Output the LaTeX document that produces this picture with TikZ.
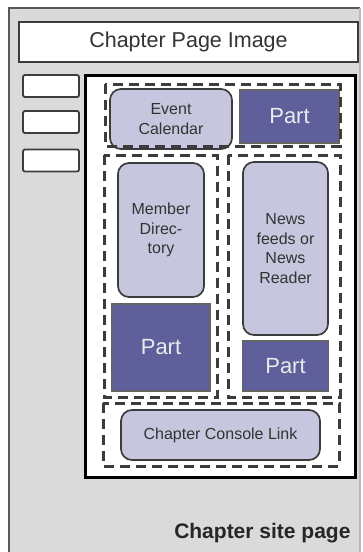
\documentclass[tikz,border=0pt]{standalone}
\usepackage{fontspec}
\setmainfont{Liberation Sans}
\usetikzlibrary{positioning}
\definecolor{pagegray}{HTML}{DADADA}
\definecolor{boxlav}{HTML}{C6C7DE}
\definecolor{partblue}{HTML}{5F5F9C}
\definecolor{edgegray}{HTML}{3C3C3C}
\tikzset{
  widget/.style={draw=edgegray, line width=1.7pt, fill=boxlav, rounded corners=11pt, text=black!80, align=center, font=\fontsize{16}{19.5}\selectfont, inner sep=0pt, outer sep=0pt}, % light modules
  part/.style={draw=edgegray!80, line width=1.3pt, fill=partblue, text=white!92!black, font=\fontsize{22}{24}\selectfont, inner sep=0pt, outer sep=0pt}, % dark parts
  zone/.style={draw=edgegray, line width=3pt, dash pattern=on 10pt off 6pt}, % dashed layout zones
  navbox/.style={draw=edgegray, line width=1.8pt, fill=white, rounded corners=2pt, minimum width=56pt, minimum height=22pt, inner sep=0pt},
}
\begin{document}
\begin{tikzpicture}[x=1pt, y=-1pt]
    \useasboundingbox (0,0) rectangle (363,552);
    % page background
    \fill[pagegray] (9,8) rectangle (360,552);
    \draw[edgegray!85, line width=2.2pt] (9,552) -- (9,8) -- (360,8);
    \draw[gray!55, line width=1.5pt] (360,8) -- (360,552);
    \node[draw=edgegray, line width=2.2pt, fill=white, minimum width=339pt, minimum height=40pt, text=black!80, font=\fontsize{21.5}{24}\selectfont] (title) at (188.5,42) {Chapter Page Image};
    \node[navbox] (nav1) at (51,86) {};
    \node[navbox] (nav2) at (51,122) {};
    \node[navbox] (nav3) at (51,160.5) {};
    \node[draw=black, line width=3pt, fill=white, minimum width=270pt, minimum height=402pt] (main) at (220,276) {};
    % modules
    \node[widget, minimum width=122pt, minimum height=60pt] (evcal) at (171,119) {Event\\Calendar};
    \node[part, minimum width=99pt, minimum height=53pt] (parttop) at (289.5,116.5) {Part};
    \node[widget, minimum width=86pt, minimum height=134pt] (memdir) at (161,230) {Member\\Direc-\\tory};
    \node[part, minimum width=98pt, minimum height=87pt, below=7pt of memdir] (partleft) {Part};
    \node[widget, minimum width=85pt, minimum height=173pt] (news) at (285.5,248.5) {News\\feeds or\\News\\Reader};
    \node[part, minimum width=86pt, minimum height=50pt, below=6pt of news] (partright) {Part};
    \node[widget, minimum width=199pt, minimum height=50pt] (console) at (220.5,435) {Chapter Console Link};
    % zones
    \draw[zone] (105,84) rectangle (340,146);
    \draw[zone] (104,155) rectangle (217,397);
    \draw[zone] (228,155) rectangle (340,397);
    \draw[zone] (103,403) rectangle (339,466);
    \node[anchor=base east, text=black!85, font=\bfseries\fontsize{21}{24}\selectfont] (sitelabel) at (354,538) {Chapter site page};
\end{tikzpicture}
\end{document}
